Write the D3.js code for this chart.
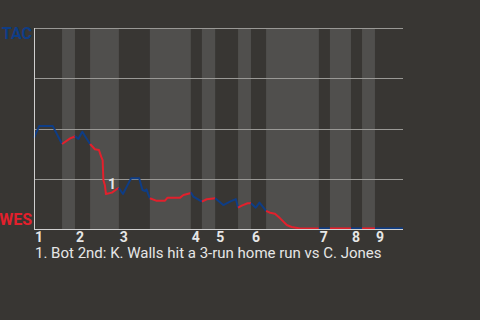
<!DOCTYPE html>
<html>
<head>
<meta charset="utf-8">
<script src="https://cdn.jsdelivr.net/npm/d3@7"></script>
<style>
  html, body { margin: 0; padding: 0; background: #383633; }
  svg { display: block; font-family: Roboto, sans-serif; }
</style>
</head>
<body>
<svg id="chart" width="480" height="320"></svg>
<script>
// game progress (0..100) where each half inning starts, last value is game end
const halfStarts = [0, 7.6, 11.1, 15.2, 23.0, 31.4, 42.5, 45.5, 49.1, 55.3, 58.8, 62.9, 77.2, 80.2, 85.9, 88.9, 92.4, 100]
const innings = [1, 2, 3, 4, 5, 6, 7, 8, 9]

// TAC win probability after each play
const progress = [
  0, 1.4, 5.1, 7.6,
  9.8, 10.9, 11.1,
  12.0, 13.1, 13.8, 15.2,
  16.5, 17.6, 18.2, 18.6, 18.8, 19.2, 19.5, 21.1, 22.4, 23.0,
  24.1, 26.3, 28.5, 29.4, 30.1, 30.5, 30.9, 31.4,
  33.1, 35.5, 36.2, 39.6, 40.5, 42.3, 42.5,
  43.2, 45.5,
  46.8, 49.1,
  51.3, 53.1, 54.7, 55.3,
  56.3, 57.9, 58.8,
  60.1, 61.1, 62.9,
  64.0, 65.3, 66.7, 68.5, 69.8, 72.1, 77.2,
  80.2, 85.9, 88.9, 92.4, 100
]
const tacWinProb = [
  0.454, 0.512, 0.512, 0.423,
  0.451, 0.459, 0.463,
  0.448, 0.484, 0.463, 0.423,
  0.397, 0.393, 0.360, 0.343, 0.244, 0.219, 0.174, 0.181, 0.198, 0.204,
  0.174, 0.252, 0.252, 0.194, 0.189, 0.197, 0.176, 0.153,
  0.141, 0.141, 0.156, 0.156, 0.169, 0.178, 0.183,
  0.161, 0.136,
  0.148, 0.153,
  0.119, 0.136, 0.149, 0.106,
  0.116, 0.128, 0.128,
  0.106, 0.131, 0.090,
  0.081, 0.076, 0.053, 0.020, 0.010, 0.003, 0.003,
  0.003, 0.003, 0.003, 0.003, 0.003
]

const teams = { top: 'TAC', bottom: 'WES' }
const annotations = [{ n: 1, at: 19.5, text: 'Bot 2nd: K. Walls hit a 3-run home run vs C. Jones' }]
const gridValues = [0.25, 0.5, 0.75, 1]

const colors = {
  top: '#0e3d86',
  bottom: '#e2202c',
  band: '#504f4d',
  grid: '#999895',
  axis: '#cfcfcf',
  text: '#e6e6e6'
}

const svg = d3.select('#chart')
const margin = { left: 34, right: 77, top: 28, bottom: 91 }
const width = 480 - margin.left - margin.right
const height = 320 - margin.top - margin.bottom

const x = d3.scaleLinear().domain([0, 100]).range([margin.left, margin.left + width])
const y = d3.scaleLinear().domain([0, 1]).range([margin.top + height, margin.top])

// bottom-half bands
const halves = d3.range(halfStarts.length - 1).map(i => ({
  i,
  x0: halfStarts[i],
  x1: halfStarts[i + 1],
  bottom: i % 2 === 1
}))

svg.append('g')
  .selectAll('rect')
  .data(halves.filter(d => d.bottom))
  .join('rect')
    .attr('x', d => x(d.x0))
    .attr('width', d => x(d.x1) - x(d.x0))
    .attr('y', y(1))
    .attr('height', y(0) - y(1))
    .attr('fill', colors.band)

// gridlines
svg.append('g')
  .selectAll('line')
  .data(gridValues)
  .join('line')
    .attr('x1', x(0))
    .attr('x2', x(100))
    .attr('y1', d => Math.round(y(d)) + 0.5)
    .attr('y2', d => Math.round(y(d)) + 0.5)
    .attr('stroke', colors.grid)
    .attr('stroke-width', 1)

// win probability line, split by half inning
const points = progress.map((p, i) => ({ u: p, p: tacWinProb[i] }))

function halfOf(u) {
  for (let i = 0; i < halfStarts.length - 1; i++) {
    if (u < halfStarts[i + 1]) return i
  }
  return halfStarts.length - 2
}

const segments = []
for (let i = 1; i < points.length; i++) {
  const h = halfOf((points[i - 1].u + points[i].u) / 2)
  let seg = segments[segments.length - 1]
  if (!seg || seg.h !== h) {
    seg = { h, pts: [points[i - 1]] }
    segments.push(seg)
  }
  seg.pts.push(points[i])
}

const line = d3.line()
    .x(d => x(d.u))
    .y(d => y(d.p))

svg.append('g')
  .selectAll('path')
  .data(segments)
  .join('path')
    .attr('d', d => line(d.pts))
    .attr('fill', 'none')
    .attr('stroke', d => d.h % 2 === 1 ? colors.bottom : colors.top)
    .attr('stroke-width', 2)
    .attr('stroke-linejoin', 'round')

// axes lines
svg.append('line')
    .attr('x1', x(0) + 0.5).attr('x2', x(0) + 0.5)
    .attr('y1', y(1)).attr('y2', y(0) + 1)
    .attr('stroke', colors.axis)

svg.append('line')
    .attr('x1', x(0)).attr('x2', x(100))
    .attr('y1', y(0) + 0.5).attr('y2', y(0) + 0.5)
    .attr('stroke', colors.axis)

// team labels
svg.append('text')
    .attr('x', x(0) - 2)
    .attr('y', y(1) + 11)
    .attr('text-anchor', 'end')
    .attr('font-weight', 'bold')
    .attr('font-size', 16)
    .attr('fill', colors.top)
    .text(teams.top)

svg.append('text')
    .attr('x', x(0) - 2)
    .attr('y', y(0) - 4)
    .attr('text-anchor', 'end')
    .attr('font-weight', 'bold')
    .attr('font-size', 16)
    .attr('fill', colors.bottom)
    .text(teams.bottom)

// inning numbers at the start of each top half
svg.append('g')
  .selectAll('text')
  .data(innings)
  .join('text')
    .attr('x', d => x(halfStarts[(d - 1) * 2]) + 1)
    .attr('y', y(0) + 13)
    .attr('font-weight', 'bold')
    .attr('font-size', 14)
    .attr('fill', colors.text)
    .text(d => d)

// annotation markers
annotations.forEach(a => {
  const i = progress.indexOf(a.at)
  svg.append('text')
      .attr('x', x(a.at) + 2)
      .attr('y', y(tacWinProb[i]) - 5)
      .attr('font-weight', 'bold')
      .attr('font-size', 14)
      .attr('fill', colors.text)
      .text(a.n)
})

svg.append('g')
  .selectAll('text')
  .data(annotations)
  .join('text')
    .attr('x', x(0) + 1)
    .attr('y', (d, i) => y(0) + 29 + i * 16)
    .attr('font-size', 15)
    .attr('fill', colors.text)
    .text(d => `${d.n}. ${d.text}`)
</script>
</body>
</html>
